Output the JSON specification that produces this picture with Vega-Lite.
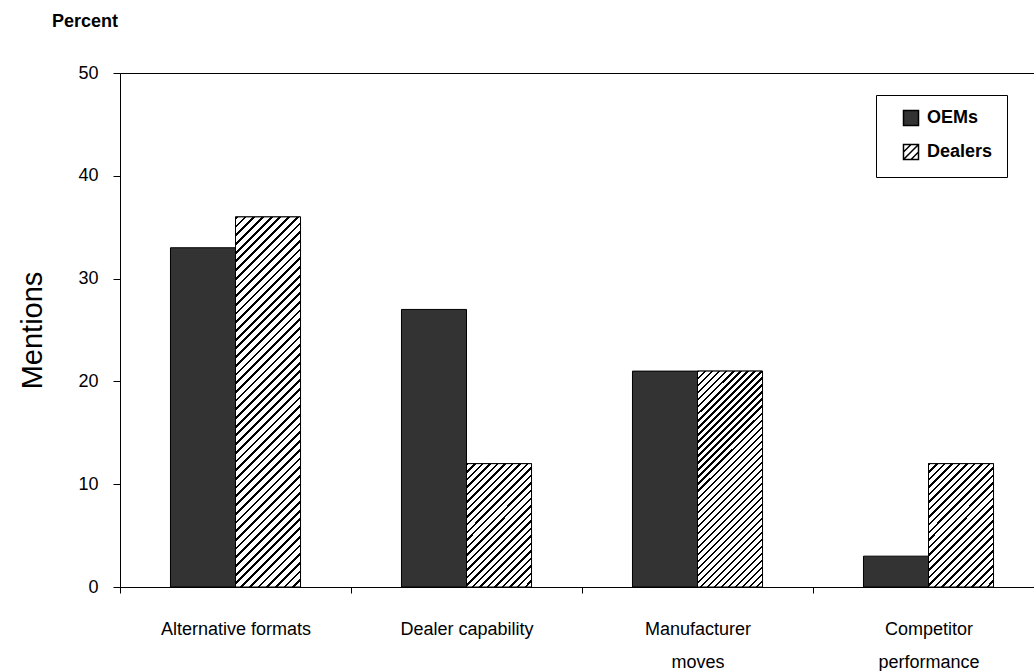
{
  "$schema": "https://vega.github.io/schema/vega-lite/v6.json",
  "width": 924,
  "height": 514,
  "autosize": {"type": "none"},
  "padding": {"left": 120, "top": 73, "right": 0, "bottom": 84},
  "background": "white",
  "config": {"font": "Liberation Sans", "view": {"stroke": "black", "strokeWidth": 1}},
  "title": {"text": "Percent", "anchor": "start", "frame": "group", "dx": -68, "offset": 19, "baseline": "alphabetic", "fontSize": 18, "fontWeight": "bold", "color": "black"},
  "data": {"values": [
    {"factor": "Alternative formats", "group": "OEMs", "value": 33},
    {"factor": "Alternative formats", "group": "Dealers", "value": 36},
    {"factor": "Dealer capability", "group": "OEMs", "value": 27},
    {"factor": "Dealer capability", "group": "Dealers", "value": 12},
    {"factor": "Manufacturer moves", "group": "OEMs", "value": 21},
    {"factor": "Manufacturer moves", "group": "Dealers", "value": 21},
    {"factor": "Competitor performance", "group": "OEMs", "value": 3},
    {"factor": "Competitor performance", "group": "Dealers", "value": 12}
  ]},
  "encoding": {
    "x": {
      "field": "factor", "type": "nominal",
      "scale": {"domain": ["Alternative formats", "Dealer capability", "Manufacturer moves", "Competitor performance"], "paddingInner": 0.437, "paddingOuter": 0.2185},
      "axis": {
        "title": null, "labelAngle": 0, "tickOffset": -115.5, "labelOffset": 115.5, "tickSize": 6,
        "tickColor": "black", "domainColor": "black", "labelColor": "black", "labelFontSize": 18,
        "labelPadding": 27, "labelBaseline": "top", "labelLineHeight": 33, "labelLimit": 400,
        "labelOverlap": false, "grid": false,
        "labelExpr": "datum.label == 'Manufacturer moves' ? ['Manufacturer', 'moves'] : datum.label == 'Competitor performance' ? ['Competitor', 'performance'] : datum.label"
      }
    },
    "xOffset": {"field": "group", "type": "nominal", "scale": {"domain": ["OEMs", "Dealers"], "paddingInner": 0, "paddingOuter": 0}},
    "y": {
      "field": "value", "type": "quantitative",
      "scale": {"domain": [0, 50], "nice": false},
      "axis": {
        "title": "Mentions", "values": [0, 10, 20, 30, 40, 50], "tickSize": 7, "labelPadding": 15,
        "labelFontSize": 18, "labelColor": "black", "tickColor": "black", "domainColor": "black", "grid": false,
        "titleFontSize": 29, "titleFontWeight": "normal", "titleColor": "black",
        "titleX": -88, "titleY": 257, "titleAngle": -90, "titleBaseline": "middle", "titleAlign": "center"
      }
    }
  },
  "layer": [
    {
      "mark": {"type": "bar", "stroke": "black", "strokeWidth": 1},
      "encoding": {
        "color": {
          "field": "group", "type": "nominal",
          "scale": {"domain": ["OEMs", "Dealers"], "range": ["#333333", "#ffffff"]},
          "legend": {
            "title": null, "orient": "none", "legendX": 756, "legendY": 22, "padding": 14,
            "strokeColor": "black", "fillColor": "white", "symbolType": "square", "symbolSize": 225,
            "symbolStrokeColor": "black", "symbolStrokeWidth": 1, "symbolOpacity": 1,
            "symbolOffset": 12, "labelOffset": 7, "rowPadding": 12,
            "labelFontSize": 18, "labelFontWeight": "bold", "labelColor": "black",
            "encode": {
              "symbols": {"update": {
                "stroke": {"value": "black"},
                "strokeWidth": {"value": 1.5},
                "shape": [
                  {"test": "datum.value === 'Dealers'", "value": "M-1,-1L1,-1L1,1L-1,1Z M-1,0L0,-1 M-1,1L1,-1 M0,1L1,0"},
                  {"value": "square"}
                ]
              }}
            }
          }
        }
      }
    },
    {
      "transform": [{"filter": "datum.group === 'Dealers' && datum.factor === 'Alternative formats'"}],
      "mark": {"type": "bar", "stroke": "black", "strokeWidth": 1, "fill": {"gradient": "linear", "x1": 0, "y1": 0, "x2": 0.2004, "y2": 1.1406, "stops": [
        {"offset": 0, "color": "#000"}, {"offset": 0.0064, "color": "#000"}, {"offset": 0.0064, "color": "#fff"}, {"offset": 0.02, "color": "#fff"},
        {"offset": 0.02, "color": "#000"}, {"offset": 0.0264, "color": "#000"}, {"offset": 0.0264, "color": "#fff"}, {"offset": 0.04, "color": "#fff"},
        {"offset": 0.04, "color": "#000"}, {"offset": 0.0464, "color": "#000"}, {"offset": 0.0464, "color": "#fff"}, {"offset": 0.06, "color": "#fff"},
        {"offset": 0.06, "color": "#000"}, {"offset": 0.0664, "color": "#000"}, {"offset": 0.0664, "color": "#fff"}, {"offset": 0.08, "color": "#fff"},
        {"offset": 0.08, "color": "#000"}, {"offset": 0.0864, "color": "#000"}, {"offset": 0.0864, "color": "#fff"}, {"offset": 0.1, "color": "#fff"},
        {"offset": 0.1, "color": "#000"}, {"offset": 0.1064, "color": "#000"}, {"offset": 0.1064, "color": "#fff"}, {"offset": 0.12, "color": "#fff"},
        {"offset": 0.12, "color": "#000"}, {"offset": 0.1264, "color": "#000"}, {"offset": 0.1264, "color": "#fff"}, {"offset": 0.14, "color": "#fff"},
        {"offset": 0.14, "color": "#000"}, {"offset": 0.1464, "color": "#000"}, {"offset": 0.1464, "color": "#fff"}, {"offset": 0.16, "color": "#fff"},
        {"offset": 0.16, "color": "#000"}, {"offset": 0.1664, "color": "#000"}, {"offset": 0.1664, "color": "#fff"}, {"offset": 0.18, "color": "#fff"},
        {"offset": 0.18, "color": "#000"}, {"offset": 0.1864, "color": "#000"}, {"offset": 0.1864, "color": "#fff"}, {"offset": 0.2, "color": "#fff"},
        {"offset": 0.2, "color": "#000"}, {"offset": 0.2064, "color": "#000"}, {"offset": 0.2064, "color": "#fff"}, {"offset": 0.22, "color": "#fff"},
        {"offset": 0.22, "color": "#000"}, {"offset": 0.2264, "color": "#000"}, {"offset": 0.2264, "color": "#fff"}, {"offset": 0.24, "color": "#fff"},
        {"offset": 0.24, "color": "#000"}, {"offset": 0.2464, "color": "#000"}, {"offset": 0.2464, "color": "#fff"}, {"offset": 0.26, "color": "#fff"},
        {"offset": 0.26, "color": "#000"}, {"offset": 0.2664, "color": "#000"}, {"offset": 0.2664, "color": "#fff"}, {"offset": 0.28, "color": "#fff"},
        {"offset": 0.28, "color": "#000"}, {"offset": 0.2864, "color": "#000"}, {"offset": 0.2864, "color": "#fff"}, {"offset": 0.3, "color": "#fff"},
        {"offset": 0.3, "color": "#000"}, {"offset": 0.3064, "color": "#000"}, {"offset": 0.3064, "color": "#fff"}, {"offset": 0.32, "color": "#fff"},
        {"offset": 0.32, "color": "#000"}, {"offset": 0.3264, "color": "#000"}, {"offset": 0.3264, "color": "#fff"}, {"offset": 0.34, "color": "#fff"},
        {"offset": 0.34, "color": "#000"}, {"offset": 0.3464, "color": "#000"}, {"offset": 0.3464, "color": "#fff"}, {"offset": 0.36, "color": "#fff"},
        {"offset": 0.36, "color": "#000"}, {"offset": 0.3664, "color": "#000"}, {"offset": 0.3664, "color": "#fff"}, {"offset": 0.38, "color": "#fff"},
        {"offset": 0.38, "color": "#000"}, {"offset": 0.3864, "color": "#000"}, {"offset": 0.3864, "color": "#fff"}, {"offset": 0.4, "color": "#fff"},
        {"offset": 0.4, "color": "#000"}, {"offset": 0.4064, "color": "#000"}, {"offset": 0.4064, "color": "#fff"}, {"offset": 0.42, "color": "#fff"},
        {"offset": 0.42, "color": "#000"}, {"offset": 0.4264, "color": "#000"}, {"offset": 0.4264, "color": "#fff"}, {"offset": 0.44, "color": "#fff"},
        {"offset": 0.44, "color": "#000"}, {"offset": 0.4464, "color": "#000"}, {"offset": 0.4464, "color": "#fff"}, {"offset": 0.46, "color": "#fff"},
        {"offset": 0.46, "color": "#000"}, {"offset": 0.4664, "color": "#000"}, {"offset": 0.4664, "color": "#fff"}, {"offset": 0.48, "color": "#fff"},
        {"offset": 0.48, "color": "#000"}, {"offset": 0.4864, "color": "#000"}, {"offset": 0.4864, "color": "#fff"}, {"offset": 0.5, "color": "#fff"},
        {"offset": 0.5, "color": "#000"}, {"offset": 0.5064, "color": "#000"}, {"offset": 0.5064, "color": "#fff"}, {"offset": 0.52, "color": "#fff"},
        {"offset": 0.52, "color": "#000"}, {"offset": 0.5264, "color": "#000"}, {"offset": 0.5264, "color": "#fff"}, {"offset": 0.54, "color": "#fff"},
        {"offset": 0.54, "color": "#000"}, {"offset": 0.5464, "color": "#000"}, {"offset": 0.5464, "color": "#fff"}, {"offset": 0.56, "color": "#fff"},
        {"offset": 0.56, "color": "#000"}, {"offset": 0.5664, "color": "#000"}, {"offset": 0.5664, "color": "#fff"}, {"offset": 0.58, "color": "#fff"},
        {"offset": 0.58, "color": "#000"}, {"offset": 0.5864, "color": "#000"}, {"offset": 0.5864, "color": "#fff"}, {"offset": 0.6, "color": "#fff"},
        {"offset": 0.6, "color": "#000"}, {"offset": 0.6064, "color": "#000"}, {"offset": 0.6064, "color": "#fff"}, {"offset": 0.62, "color": "#fff"},
        {"offset": 0.62, "color": "#000"}, {"offset": 0.6264, "color": "#000"}, {"offset": 0.6264, "color": "#fff"}, {"offset": 0.64, "color": "#fff"},
        {"offset": 0.64, "color": "#000"}, {"offset": 0.6464, "color": "#000"}, {"offset": 0.6464, "color": "#fff"}, {"offset": 0.66, "color": "#fff"},
        {"offset": 0.66, "color": "#000"}, {"offset": 0.6664, "color": "#000"}, {"offset": 0.6664, "color": "#fff"}, {"offset": 0.68, "color": "#fff"},
        {"offset": 0.68, "color": "#000"}, {"offset": 0.6864, "color": "#000"}, {"offset": 0.6864, "color": "#fff"}, {"offset": 0.7, "color": "#fff"},
        {"offset": 0.7, "color": "#000"}, {"offset": 0.7064, "color": "#000"}, {"offset": 0.7064, "color": "#fff"}, {"offset": 0.72, "color": "#fff"},
        {"offset": 0.72, "color": "#000"}, {"offset": 0.7264, "color": "#000"}, {"offset": 0.7264, "color": "#fff"}, {"offset": 0.74, "color": "#fff"},
        {"offset": 0.74, "color": "#000"}, {"offset": 0.7464, "color": "#000"}, {"offset": 0.7464, "color": "#fff"}, {"offset": 0.76, "color": "#fff"},
        {"offset": 0.76, "color": "#000"}, {"offset": 0.7664, "color": "#000"}, {"offset": 0.7664, "color": "#fff"}, {"offset": 0.78, "color": "#fff"},
        {"offset": 0.78, "color": "#000"}, {"offset": 0.7864, "color": "#000"}, {"offset": 0.7864, "color": "#fff"}, {"offset": 0.8, "color": "#fff"},
        {"offset": 0.8, "color": "#000"}, {"offset": 0.8064, "color": "#000"}, {"offset": 0.8064, "color": "#fff"}, {"offset": 0.82, "color": "#fff"},
        {"offset": 0.82, "color": "#000"}, {"offset": 0.8264, "color": "#000"}, {"offset": 0.8264, "color": "#fff"}, {"offset": 0.84, "color": "#fff"},
        {"offset": 0.84, "color": "#000"}, {"offset": 0.8464, "color": "#000"}, {"offset": 0.8464, "color": "#fff"}, {"offset": 0.86, "color": "#fff"},
        {"offset": 0.86, "color": "#000"}, {"offset": 0.8664, "color": "#000"}, {"offset": 0.8664, "color": "#fff"}, {"offset": 0.88, "color": "#fff"},
        {"offset": 0.88, "color": "#000"}, {"offset": 0.8864, "color": "#000"}, {"offset": 0.8864, "color": "#fff"}, {"offset": 0.9, "color": "#fff"},
        {"offset": 0.9, "color": "#000"}, {"offset": 0.9064, "color": "#000"}, {"offset": 0.9064, "color": "#fff"}, {"offset": 0.92, "color": "#fff"},
        {"offset": 0.92, "color": "#000"}, {"offset": 0.9264, "color": "#000"}, {"offset": 0.9264, "color": "#fff"}, {"offset": 0.94, "color": "#fff"},
        {"offset": 0.94, "color": "#000"}, {"offset": 0.9464, "color": "#000"}, {"offset": 0.9464, "color": "#fff"}, {"offset": 0.96, "color": "#fff"},
        {"offset": 0.96, "color": "#000"}, {"offset": 0.9664, "color": "#000"}, {"offset": 0.9664, "color": "#fff"}, {"offset": 0.98, "color": "#fff"},
        {"offset": 0.98, "color": "#000"}, {"offset": 0.9864, "color": "#000"}, {"offset": 0.9864, "color": "#fff"}, {"offset": 1, "color": "#fff"}
      ]}}
    },
    {
      "transform": [{"filter": "datum.group === 'Dealers' && datum.factor === 'Manufacturer moves'"}],
      "mark": {"type": "bar", "stroke": "black", "strokeWidth": 1, "fill": {"gradient": "linear", "x1": 0, "y1": 0, "x2": 0.359, "y2": 1.193, "stops": [
        {"offset": 0, "color": "#000"}, {"offset": 0.008, "color": "#000"}, {"offset": 0.008, "color": "#fff"}, {"offset": 0.025, "color": "#fff"},
        {"offset": 0.025, "color": "#000"}, {"offset": 0.033, "color": "#000"}, {"offset": 0.033, "color": "#fff"}, {"offset": 0.05, "color": "#fff"},
        {"offset": 0.05, "color": "#000"}, {"offset": 0.058, "color": "#000"}, {"offset": 0.058, "color": "#fff"}, {"offset": 0.075, "color": "#fff"},
        {"offset": 0.075, "color": "#000"}, {"offset": 0.083, "color": "#000"}, {"offset": 0.083, "color": "#fff"}, {"offset": 0.1, "color": "#fff"},
        {"offset": 0.1, "color": "#000"}, {"offset": 0.108, "color": "#000"}, {"offset": 0.108, "color": "#fff"}, {"offset": 0.125, "color": "#fff"},
        {"offset": 0.125, "color": "#000"}, {"offset": 0.133, "color": "#000"}, {"offset": 0.133, "color": "#fff"}, {"offset": 0.15, "color": "#fff"},
        {"offset": 0.15, "color": "#000"}, {"offset": 0.158, "color": "#000"}, {"offset": 0.158, "color": "#fff"}, {"offset": 0.175, "color": "#fff"},
        {"offset": 0.175, "color": "#000"}, {"offset": 0.183, "color": "#000"}, {"offset": 0.183, "color": "#fff"}, {"offset": 0.2, "color": "#fff"},
        {"offset": 0.2, "color": "#000"}, {"offset": 0.208, "color": "#000"}, {"offset": 0.208, "color": "#fff"}, {"offset": 0.225, "color": "#fff"},
        {"offset": 0.225, "color": "#000"}, {"offset": 0.233, "color": "#000"}, {"offset": 0.233, "color": "#fff"}, {"offset": 0.25, "color": "#fff"},
        {"offset": 0.25, "color": "#000"}, {"offset": 0.258, "color": "#000"}, {"offset": 0.258, "color": "#fff"}, {"offset": 0.275, "color": "#fff"},
        {"offset": 0.275, "color": "#000"}, {"offset": 0.283, "color": "#000"}, {"offset": 0.283, "color": "#fff"}, {"offset": 0.3, "color": "#fff"},
        {"offset": 0.3, "color": "#000"}, {"offset": 0.308, "color": "#000"}, {"offset": 0.308, "color": "#fff"}, {"offset": 0.325, "color": "#fff"},
        {"offset": 0.325, "color": "#000"}, {"offset": 0.333, "color": "#000"}, {"offset": 0.333, "color": "#fff"}, {"offset": 0.35, "color": "#fff"},
        {"offset": 0.35, "color": "#000"}, {"offset": 0.358, "color": "#000"}, {"offset": 0.358, "color": "#fff"}, {"offset": 0.375, "color": "#fff"},
        {"offset": 0.375, "color": "#000"}, {"offset": 0.383, "color": "#000"}, {"offset": 0.383, "color": "#fff"}, {"offset": 0.4, "color": "#fff"},
        {"offset": 0.4, "color": "#000"}, {"offset": 0.408, "color": "#000"}, {"offset": 0.408, "color": "#fff"}, {"offset": 0.425, "color": "#fff"},
        {"offset": 0.425, "color": "#000"}, {"offset": 0.433, "color": "#000"}, {"offset": 0.433, "color": "#fff"}, {"offset": 0.45, "color": "#fff"},
        {"offset": 0.45, "color": "#000"}, {"offset": 0.458, "color": "#000"}, {"offset": 0.458, "color": "#fff"}, {"offset": 0.475, "color": "#fff"},
        {"offset": 0.475, "color": "#000"}, {"offset": 0.483, "color": "#000"}, {"offset": 0.483, "color": "#fff"}, {"offset": 0.5, "color": "#fff"},
        {"offset": 0.5, "color": "#000"}, {"offset": 0.508, "color": "#000"}, {"offset": 0.508, "color": "#fff"}, {"offset": 0.525, "color": "#fff"},
        {"offset": 0.525, "color": "#000"}, {"offset": 0.533, "color": "#000"}, {"offset": 0.533, "color": "#fff"}, {"offset": 0.55, "color": "#fff"},
        {"offset": 0.55, "color": "#000"}, {"offset": 0.558, "color": "#000"}, {"offset": 0.558, "color": "#fff"}, {"offset": 0.575, "color": "#fff"},
        {"offset": 0.575, "color": "#000"}, {"offset": 0.583, "color": "#000"}, {"offset": 0.583, "color": "#fff"}, {"offset": 0.6, "color": "#fff"},
        {"offset": 0.6, "color": "#000"}, {"offset": 0.608, "color": "#000"}, {"offset": 0.608, "color": "#fff"}, {"offset": 0.625, "color": "#fff"},
        {"offset": 0.625, "color": "#000"}, {"offset": 0.633, "color": "#000"}, {"offset": 0.633, "color": "#fff"}, {"offset": 0.65, "color": "#fff"},
        {"offset": 0.65, "color": "#000"}, {"offset": 0.658, "color": "#000"}, {"offset": 0.658, "color": "#fff"}, {"offset": 0.675, "color": "#fff"},
        {"offset": 0.675, "color": "#000"}, {"offset": 0.683, "color": "#000"}, {"offset": 0.683, "color": "#fff"}, {"offset": 0.7, "color": "#fff"},
        {"offset": 0.7, "color": "#000"}, {"offset": 0.708, "color": "#000"}, {"offset": 0.708, "color": "#fff"}, {"offset": 0.725, "color": "#fff"},
        {"offset": 0.725, "color": "#000"}, {"offset": 0.733, "color": "#000"}, {"offset": 0.733, "color": "#fff"}, {"offset": 0.75, "color": "#fff"},
        {"offset": 0.75, "color": "#000"}, {"offset": 0.758, "color": "#000"}, {"offset": 0.758, "color": "#fff"}, {"offset": 0.775, "color": "#fff"},
        {"offset": 0.775, "color": "#000"}, {"offset": 0.783, "color": "#000"}, {"offset": 0.783, "color": "#fff"}, {"offset": 0.8, "color": "#fff"},
        {"offset": 0.8, "color": "#000"}, {"offset": 0.808, "color": "#000"}, {"offset": 0.808, "color": "#fff"}, {"offset": 0.825, "color": "#fff"},
        {"offset": 0.825, "color": "#000"}, {"offset": 0.833, "color": "#000"}, {"offset": 0.833, "color": "#fff"}, {"offset": 0.85, "color": "#fff"},
        {"offset": 0.85, "color": "#000"}, {"offset": 0.858, "color": "#000"}, {"offset": 0.858, "color": "#fff"}, {"offset": 0.875, "color": "#fff"},
        {"offset": 0.875, "color": "#000"}, {"offset": 0.883, "color": "#000"}, {"offset": 0.883, "color": "#fff"}, {"offset": 0.9, "color": "#fff"},
        {"offset": 0.9, "color": "#000"}, {"offset": 0.908, "color": "#000"}, {"offset": 0.908, "color": "#fff"}, {"offset": 0.925, "color": "#fff"},
        {"offset": 0.925, "color": "#000"}, {"offset": 0.933, "color": "#000"}, {"offset": 0.933, "color": "#fff"}, {"offset": 0.95, "color": "#fff"},
        {"offset": 0.95, "color": "#000"}, {"offset": 0.958, "color": "#000"}, {"offset": 0.958, "color": "#fff"}, {"offset": 0.975, "color": "#fff"},
        {"offset": 0.975, "color": "#000"}, {"offset": 0.983, "color": "#000"}, {"offset": 0.983, "color": "#fff"}, {"offset": 1, "color": "#fff"}
      ]}}
    },
    {
      "transform": [{"filter": "datum.group === 'Dealers' && datum.value === 12"}],
      "mark": {"type": "bar", "stroke": "black", "strokeWidth": 1, "fill": {"gradient": "linear", "x1": 0, "y1": 0, "x2": 0.6315, "y2": 1.1948, "stops": [
        {"offset": 0, "color": "#000"}, {"offset": 0.013, "color": "#000"}, {"offset": 0.013, "color": "#fff"}, {"offset": 0.04, "color": "#fff"},
        {"offset": 0.04, "color": "#000"}, {"offset": 0.053, "color": "#000"}, {"offset": 0.053, "color": "#fff"}, {"offset": 0.08, "color": "#fff"},
        {"offset": 0.08, "color": "#000"}, {"offset": 0.093, "color": "#000"}, {"offset": 0.093, "color": "#fff"}, {"offset": 0.12, "color": "#fff"},
        {"offset": 0.12, "color": "#000"}, {"offset": 0.133, "color": "#000"}, {"offset": 0.133, "color": "#fff"}, {"offset": 0.16, "color": "#fff"},
        {"offset": 0.16, "color": "#000"}, {"offset": 0.173, "color": "#000"}, {"offset": 0.173, "color": "#fff"}, {"offset": 0.2, "color": "#fff"},
        {"offset": 0.2, "color": "#000"}, {"offset": 0.213, "color": "#000"}, {"offset": 0.213, "color": "#fff"}, {"offset": 0.24, "color": "#fff"},
        {"offset": 0.24, "color": "#000"}, {"offset": 0.253, "color": "#000"}, {"offset": 0.253, "color": "#fff"}, {"offset": 0.28, "color": "#fff"},
        {"offset": 0.28, "color": "#000"}, {"offset": 0.293, "color": "#000"}, {"offset": 0.293, "color": "#fff"}, {"offset": 0.32, "color": "#fff"},
        {"offset": 0.32, "color": "#000"}, {"offset": 0.333, "color": "#000"}, {"offset": 0.333, "color": "#fff"}, {"offset": 0.36, "color": "#fff"},
        {"offset": 0.36, "color": "#000"}, {"offset": 0.373, "color": "#000"}, {"offset": 0.373, "color": "#fff"}, {"offset": 0.4, "color": "#fff"},
        {"offset": 0.4, "color": "#000"}, {"offset": 0.413, "color": "#000"}, {"offset": 0.413, "color": "#fff"}, {"offset": 0.44, "color": "#fff"},
        {"offset": 0.44, "color": "#000"}, {"offset": 0.453, "color": "#000"}, {"offset": 0.453, "color": "#fff"}, {"offset": 0.48, "color": "#fff"},
        {"offset": 0.48, "color": "#000"}, {"offset": 0.493, "color": "#000"}, {"offset": 0.493, "color": "#fff"}, {"offset": 0.52, "color": "#fff"},
        {"offset": 0.52, "color": "#000"}, {"offset": 0.533, "color": "#000"}, {"offset": 0.533, "color": "#fff"}, {"offset": 0.56, "color": "#fff"},
        {"offset": 0.56, "color": "#000"}, {"offset": 0.573, "color": "#000"}, {"offset": 0.573, "color": "#fff"}, {"offset": 0.6, "color": "#fff"},
        {"offset": 0.6, "color": "#000"}, {"offset": 0.613, "color": "#000"}, {"offset": 0.613, "color": "#fff"}, {"offset": 0.64, "color": "#fff"},
        {"offset": 0.64, "color": "#000"}, {"offset": 0.653, "color": "#000"}, {"offset": 0.653, "color": "#fff"}, {"offset": 0.68, "color": "#fff"},
        {"offset": 0.68, "color": "#000"}, {"offset": 0.693, "color": "#000"}, {"offset": 0.693, "color": "#fff"}, {"offset": 0.72, "color": "#fff"},
        {"offset": 0.72, "color": "#000"}, {"offset": 0.733, "color": "#000"}, {"offset": 0.733, "color": "#fff"}, {"offset": 0.76, "color": "#fff"},
        {"offset": 0.76, "color": "#000"}, {"offset": 0.773, "color": "#000"}, {"offset": 0.773, "color": "#fff"}, {"offset": 0.8, "color": "#fff"},
        {"offset": 0.8, "color": "#000"}, {"offset": 0.813, "color": "#000"}, {"offset": 0.813, "color": "#fff"}, {"offset": 0.84, "color": "#fff"},
        {"offset": 0.84, "color": "#000"}, {"offset": 0.853, "color": "#000"}, {"offset": 0.853, "color": "#fff"}, {"offset": 0.88, "color": "#fff"},
        {"offset": 0.88, "color": "#000"}, {"offset": 0.893, "color": "#000"}, {"offset": 0.893, "color": "#fff"}, {"offset": 0.92, "color": "#fff"},
        {"offset": 0.92, "color": "#000"}, {"offset": 0.933, "color": "#000"}, {"offset": 0.933, "color": "#fff"}, {"offset": 0.96, "color": "#fff"},
        {"offset": 0.96, "color": "#000"}, {"offset": 0.973, "color": "#000"}, {"offset": 0.973, "color": "#fff"}, {"offset": 1, "color": "#fff"}
      ]}}
    }
  ]
}
